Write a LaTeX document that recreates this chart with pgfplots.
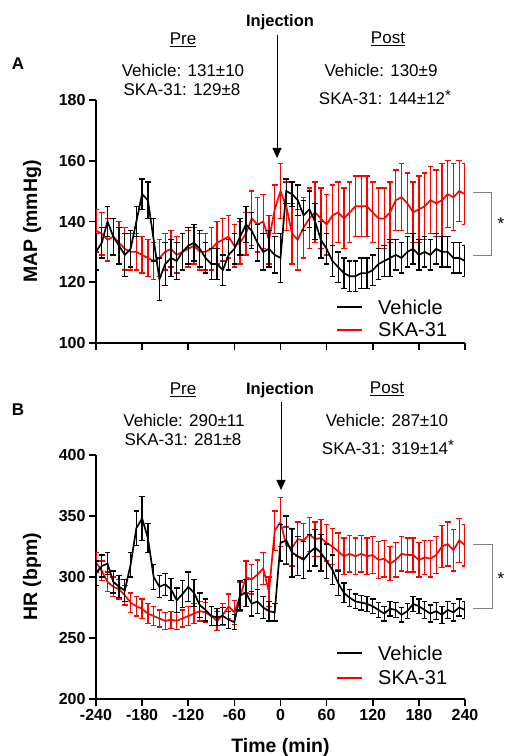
\documentclass[border=0pt]{standalone}
\usepackage{fontspec}
\setmainfont{Liberation Sans}
\usepackage{pgfplots}
\pgfplotsset{compat=1.18}
\usepackage{pgfplotstable}
\usetikzlibrary{arrows.meta}

% MAP: t, vehicle mean/sem, SKA-31 mean/sem
\pgfplotstableread{
t v ve s se
-240 130 6 137 7
-232.5 133 5 136 7
-225 140 5 134 7
-217.5 135 6 135 6
-210 132 6 133 7
-202.5 129 7 131 7
-195 131 6 130 6
-187.5 140 5 130 6
-180 149 5 129 6
-172.5 147 6 128 6
-165 134 7 127 6
-157.5 121 7 128 6
-150 126 7 130 6
-142.5 128 6 131 6
-135 127 6 129 6
-127.5 130 6 130 6
-120 132 6 131 6
-112.5 133 6 132 6
-105 131 6 130 6
-97.5 128 5 130 6
-90 126 5 131 7
-82.5 126 5 133 7
-75 124 5 134 7
-67.5 129 5 135 7
-60 131 5 132 7
-52.5 135 6 133 7
-45 139 6 136 7
-37.5 137 6 141 9
-30 133 6 139 9
-22.5 130 6 140 9
-15 131 6 134 8
-7.5 129 6 144 8
0 128 8 150 9
7.5 150 4 145 8
15 149 4 136 10
22.5 147 5 134 10
30 142 5 138 10
37.5 144 6 141 10
45 140 6 143 10
52.5 134 6 141 10
60 131 5 139 10
67.5 127 5 142 10
75 125 5 143 10
82.5 123 5 141 10
90 122 5 143 10
97.5 122 5 145 10
105 123 5 145 10
112.5 123 5 145 10
120 124 5 143 10
127.5 126 5 141 10
135 127 5 141 10
142.5 128 6 143 10
150 129 5 147 10
157.5 128 5 148 11
165 130 5 146 10
172.5 131 5 143 10
180 129 5 144 11
187.5 130 5 145 11
195 129 5 147 11
202.5 131 5 146 11
210 130 5 147 12
217.5 130 5 149 11
225 128 5 148 11
232.5 128 5 150 10
240 127 5 149 10
}\tabA

% HR
\pgfplotstableread{
t v ve s se
-240 303 10 312 8
-232.5 309 9 305 8
-225 311 9 296 8
-217.5 296 9 292 8
-210 292 9 290 8
-202.5 289 9 285 8
-195 310 10 279 8
-187.5 340 14 276 8
-180 348 18 274 8
-172.5 332 12 270 8
-165 300 10 268 8
-157.5 292 9 266 7
-150 294 9 264 7
-142.5 290 9 265 7
-135 281 10 264 7
-127.5 286 11 266 7
-120 292 12 268 8
-112.5 287 11 270 8
-105 277 10 272 8
-97.5 273 9 271 8
-90 268 8 268 8
-82.5 267 7 264 8
-75 268 7 269 9
-67.5 265 7 276 10
-60 263 6 271 10
-52.5 285 12 284 12
-45 287 11 300 13
-37.5 278 10 298 12
-30 280 10 302 12
-22.5 275 9 307 13
-15 272 8 288 12
-7.5 271 7 338 16
0 328 15 345 20
7.5 330 20 326 15
15 320 20 324 15
22.5 317 16 331 14
30 314 15 330 14
37.5 320 15 335 14
45 324 15 331 14
52.5 320 15 332 15
60 313 14 328 15
67.5 306 12 325 15
75 295 10 321 15
82.5 287 8 317 15
90 283 7 319 15
97.5 280 6 317 15
105 279 6 319 15
112.5 278 6 317 15
120 276 6 318 15
127.5 273 6 314 15
135 270 6 315 15
142.5 274 6 311 14
150 273 6 314 14
157.5 269 6 319 14
165 272 6 318 14
172.5 278 6 318 14
180 276 6 314 14
187.5 273 7 316 14
195 270 7 315 15
202.5 272 7 318 15
210 269 7 325 17
217.5 273 7 327 18
225 271 7 322 17
232.5 275 7 330 18
240 273 7 326 17
}\tabB

\newcommand\tk{\fontsize{16}{18}\selectfont\bfseries}
\newcommand\lab{\fontsize{19.5}{22}\selectfont\bfseries}
\newcommand\ann{\fontsize{17}{20}\selectfont}
\newcommand\sig{\raisebox{4pt}{\fontsize{15}{15}\selectfont *}}

\pgfplotsset{
  gp/.style={
    scale only axis, width=369pt,
    xmin=-240, xmax=240,
    axis x line*=bottom, axis y line*=left,
    axis line style={line width=1.6pt, -},
    tick align=outside, major tick length=7pt,
    tick style={line width=1.6pt, black},
    xtick={-240,-180,...,240},
    tick label style={font=\tk},
    label style={font=\lab},
    ylabel style={at={(axis description cs:-0.173,0.5)}, anchor=center},
  },
  % error bar with a horizontal cap at its end
  capbar/.style={error bars/.cd, y dir=both, y explicit, error mark=none,
    draw error bar/.code 2 args={
      \draw[line width=1.3pt, #1] ##1 -- ##2 ##2 ++(-2.8pt,0pt) -- ++(5.6pt,0pt);}},
  veh/.style={black, mark=none, line width=1.7pt, capbar=black},
  ska/.style={red, mark=none, line width=1.7pt, capbar=red},
}

\begin{document}
\begin{tikzpicture}[x=1pt, y=1pt]
\useasboundingbox (0,0) rectangle (506,756);

% panel A
\begin{axis}[gp, at={(96pt,413pt)}, anchor=south west, height=243pt,
    ymin=100, ymax=180, ytick={100,120,...,180},
    yticklabels={100,120,140,160,180}, xticklabels={},
    ylabel={MAP (mmHg)}]
  \addplot[ska] table[x=t, y=s, y error=se] {\tabA};
  \addplot[veh] table[x=t, y=v, y error=ve] {\tabA};
\end{axis}

% panel B
\begin{axis}[gp, at={(96pt,57pt)}, anchor=south west, height=244pt,
    ymin=200, ymax=400, ytick={200,250,...,400},
    yticklabels={200,250,300,350,400},
    xticklabels={-240,-180,-120,-60,0,60,120,180,240},
    ylabel={HR (bpm)}, xlabel={Time (min)},
    xlabel style={at={(axis description cs:0.5,-0.197)}, anchor=center}]
  \addplot[ska] table[x=t, y=s, y error=se] {\tabB};
  \addplot[veh] table[x=t, y=v, y error=ve] {\tabB};
\end{axis}

% annotations A
\node[font=\fontsize{17}{20}\selectfont\bfseries] at (18,692) {A};
\node[font=\fontsize{16.5}{19}\selectfont\bfseries] at (280,734) {Injection};
\draw[line width=1pt, -{Triangle[width=9pt,length=10pt]}] (277,721) -- (277,598);
\node[font=\ann] at (183,716) {\underline{Pre}};
\node[font=\ann] at (388,717) {\underline{Post}};
\node[font=\ann] at (183,686) {Vehicle: 131±10};
\node[font=\ann] at (182,666) {SKA-31: 129±8};
\node[font=\ann] at (381,686) {Vehicle: 130±9};
\node[font=\ann] at (385,659) {SKA-31: 144±12\sig};
\draw[gray, line width=1pt] (473,563) -- (491,563) -- (491,500) -- (473,500);
\node[font=\ann, inner sep=0pt] at (501,532) {*};
\draw[black, line width=2.5pt] (337,449) -- (362,449);
\draw[red, line width=2.5pt] (337,426) -- (362,426);
\node[font=\fontsize{20}{22}\selectfont, anchor=west, inner sep=0pt] at (378,449) {Vehicle};
\node[font=\fontsize{20}{22}\selectfont, anchor=west, inner sep=0pt] at (378,426) {SKA-31};

% annotations B
\node[font=\fontsize{17}{20}\selectfont\bfseries] at (18,346) {B};
\node[font=\fontsize{16.5}{19}\selectfont\bfseries] at (280,366) {Injection};
\draw[line width=1pt, -{Triangle[width=9pt,length=10pt]}] (281,354) -- (281,266);
\node[font=\ann] at (183,366) {\underline{Pre}};
\node[font=\ann] at (387,367) {\underline{Post}};
\node[font=\ann] at (184,336) {Vehicle: 290±11};
\node[font=\ann] at (183,316) {SKA-31: 281±8};
\node[font=\ann] at (387,336) {Vehicle: 287±10};
\node[font=\ann] at (388,309) {SKA-31: 319±14\sig};
\draw[gray, line width=1pt] (473,211) -- (492,211) -- (492,147) -- (473,147);
\node[font=\ann, inner sep=0pt] at (501,177) {*};
\draw[black, line width=2.5pt] (337,103) -- (362,103);
\draw[red, line width=2.5pt] (337,78) -- (362,78);
\node[font=\fontsize{20}{22}\selectfont, anchor=west, inner sep=0pt] at (378,103) {Vehicle};
\node[font=\fontsize{20}{22}\selectfont, anchor=west, inner sep=0pt] at (378,78) {SKA-31};
\end{tikzpicture}
\end{document}
